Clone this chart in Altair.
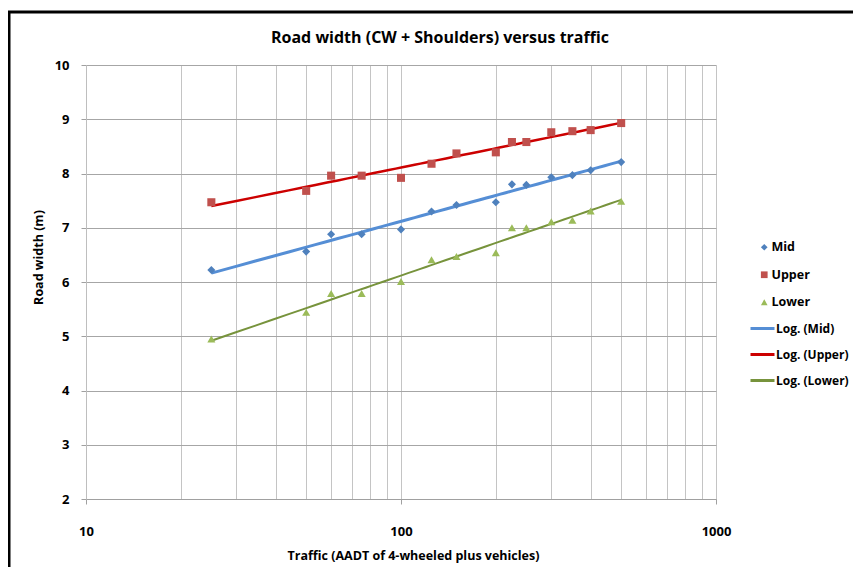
import altair as alt
import pandas as pd

traffic = [25, 50, 60, 75, 100, 125, 150, 200, 225, 250, 300, 350, 400, 500]
mid = [6.22, 6.56, 6.88, 6.88, 6.97, 7.30, 7.42, 7.47, 7.80, 7.79, 7.93, 7.97, 8.06, 8.21]
upper = [7.47, 7.68, 7.96, 7.96, 7.92, 8.18, 8.37, 8.39, 8.58, 8.58, 8.76, 8.78, 8.80, 8.93]
lower = [4.95, 5.44, 5.79, 5.79, 6.01, 6.41, 6.47, 6.54, 7.00, 7.00, 7.11, 7.14, 7.31, 7.49]

series_names = ["Mid", "Upper", "Lower"]
trend_names = ["Log. (Mid)", "Log. (Upper)", "Log. (Lower)"]
point_colors = ["#4F81BD", "#C0504D", "#9BBB59"]
point_shapes = ["diamond", "square", "triangle-up"]
trend_colors = ["#558ED5", "#CC0000", "#77933C"]
trend_widths = [3, 2, 3]

x_ticks = [10, 20, 30, 40, 50, 60, 70, 80, 90, 100, 200, 300, 400, 500, 600, 700, 800, 900, 1000]
y_ticks = [2, 3, 4, 5, 6, 7, 8, 9, 10]

rows = []
for name, vals in zip(series_names, [mid, upper, lower]):
    for t, v in zip(traffic, vals):
        rows.append({"traffic": t, "width": v, "series": name})
df = pd.DataFrame(rows)

FONT = "Open Sans"
major_test = "datum.value == 10 || datum.value == 100 || datum.value == 1000"

x_enc = alt.X(
    "traffic:Q",
    scale=alt.Scale(type="log", domain=[10, 1000], nice=False),
    axis=alt.Axis(
        values=x_ticks,
        format="d",
        labelExpr=f"({major_test}) ? datum.label : ''",
        title="Traffic (AADT of 4-wheeled plus vehicles)",
        grid=True,
        gridColor="#C4C4C4",
        gridWidth=1,
        domainColor="#A0A0A0",
        tickColor="#A0A0A0",
        tickOpacity={"condition": {"test": major_test, "value": 1}, "value": 0},
        tickSize=5,
        labelPadding=21,
        labelFlush=False,
        labelOverlap=False,
        titlePadding=11,
        titleX=327,
        titleAlign="center",
    ),
)
y_enc = alt.Y(
    "width:Q",
    scale=alt.Scale(domain=[2, 10], nice=False, zero=False),
    axis=alt.Axis(
        values=y_ticks,
        title="Road width (m)",
        grid=True,
        gridColor="#A6A6A6",
        domainColor="#BEBEBE",
        tickColor="#A0A0A0",
        tickSize=5,
        labelPadding=12,
        titleX=-48,
        titleY=192,
        titleAngle=-90,
        titleAlign="center",
        titleBaseline="middle",
    ),
)

base = alt.Chart(df)

pt_legend = alt.Legend(
    title=None, orient="none", legendX=672, legendY=176,
    symbolSize=45, labelFont=FONT, labelFontWeight="bold", labelFontSize=12.5,
    labelColor="black", rowPadding=14.5, labelOffset=1, padding=0,
)
points = base.mark_point(filled=True, size=65, opacity=1).encode(
    x=x_enc,
    y=y_enc,
    color=alt.Color("series:N", scale=alt.Scale(domain=series_names, range=point_colors), legend=pt_legend),
    shape=alt.Shape("series:N", scale=alt.Scale(domain=series_names, range=point_shapes), legend=pt_legend),
)

ln_legend = alt.Legend(
    title=None, orient="none", legendX=663, legendY=250,
    symbolType="stroke", symbolSize=576, symbolStrokeWidth=3,
    labelFont=FONT, labelFontWeight="bold", labelFontSize=12,
    labelColor="black", rowPadding=6, labelOffset=0, padding=0, labelLimit=200,
)
lines = (
    base.transform_regression("traffic", "width", method="log", groupby=["series"])
    .transform_calculate(trend='"Log. (" + datum.series + ")"')
    .mark_line()
    .encode(
        x="traffic:Q",
        y="width:Q",
        color=alt.Color("trend:N", scale=alt.Scale(domain=trend_names, range=trend_colors), legend=ln_legend),
        strokeWidth=alt.StrokeWidth("trend:N", scale=alt.Scale(domain=trend_names, range=trend_widths), legend=None),
    )
)

frame = alt.Chart(pd.DataFrame({"a": [0]})).mark_rect(
    fillOpacity=0, stroke="black", strokeWidth=3
).encode(
    x=alt.value(-77), x2=alt.value(770), y=alt.value(-53), y2=alt.value(520)
)

chart = (
    alt.layer(lines, points, frame)
    .resolve_scale(color="independent", shape="independent")
    .properties(
        width=630,
        height=434,
        autosize=alt.AutoSizeParams(type="none"),
        padding={"left": 78, "top": 57, "right": 137, "bottom": 68},
        background="white",
        title=alt.TitleParams(
            "Road width (CW + Shoulders) versus traffic",
            font=FONT, fontSize=16, fontWeight="bold", color="black",
            anchor="middle", dx=39, dy=69, offset=21, baseline="alphabetic",
        ),
    )
    .configure_view(stroke=None)
    .configure_axis(
        labelFont=FONT, labelFontWeight="bold", labelFontSize=13, labelColor="black",
        titleFont=FONT, titleFontWeight="bold", titleFontSize=12.5, titleColor="black",
    )
)

chart.save("out.html", embed_options={"renderer": "svg", "actions": False})
